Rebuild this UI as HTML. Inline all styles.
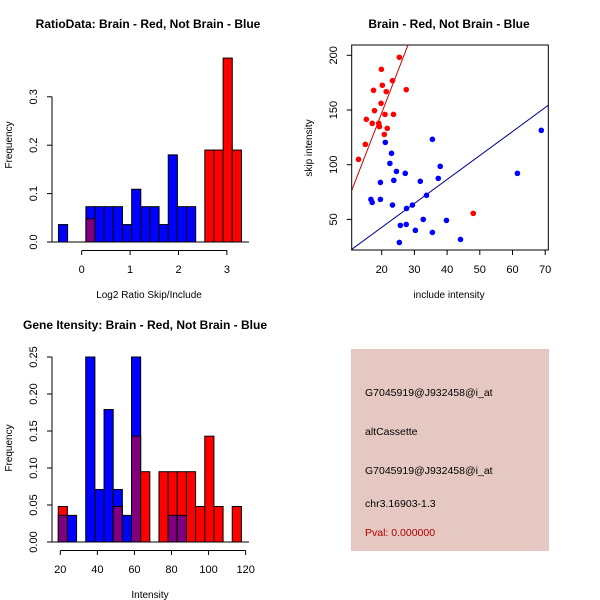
<!DOCTYPE html>
<html><head><meta charset="utf-8"><style>
body{margin:0;background:#fff;width:600px;height:600px;overflow:hidden}
svg{display:block;font-family:"Liberation Sans",Arial,sans-serif}
</style></head><body>
<svg id="chart" width="600" height="600" viewBox="0 0 600 600"></svg>
<script>
// ---- Panel 1: ratio histogram data ----
const ratioStart = -0.48;
const ratioBinWidth = 0.189;
const ratioBlue = [0.036,0,0,0.073,0.073,0.073,0.073,0.036,0.109,0.073,0.073,0.036,0.18,0.073,0.073,0,0,0,0,0];
const ratioRed  = [0,0,0,0.048,0,0,0,0,0,0,0,0,0,0,0,0,0.19,0.19,0.38,0.19];
const ratioXTicks = [0,1,2,3];
const ratioYTicks = [0,0.1,0.2,0.3];
// ---- Panel 2: scatter data ----
const redX = [25.4,19.9,23.3,27.5,17.5,20.2,21.4,19.8,17.8,21.0,23.6,15.3,17.1,19.1,19.3,21.7,20.8,15.0,12.9,48.0];
const redY = [198.2,187.2,176.8,168.6,168,172.6,166.8,156.1,149.4,146,146,141.5,137.8,137.8,134.8,133.2,127.7,118.6,104.9,55.5];
const blueX = [21.1,35.5,23.0,22.5,37.9,24.5,27.2,61.5,68.8,37.3,19.6,23.7,31.8,33.7,16.7,19.6,17.1,23.3,29.4,27.6,32.7,39.8,25.7,27.5,30.3,35.5,44.1,25.4];
const blueY = [120.4,123.2,110.4,101.2,98.5,93.9,92.1,92.1,131.4,87.5,83.8,85.7,84.8,72,68.3,68.3,65.5,63.1,63.1,60,50,49.1,44.5,45.4,40,38.1,31.7,28.9];
const redFit = [-7.3, 7.73];   // intercept, slope
const blueFit = [-1.1, 2.19];
const scatterXTicks = [20,30,40,50,60,70];
const scatterYTicks = [50,100,150,200];
// ---- Panel 3: intensity histogram data ----
const intStart = 18.9;
const intBinWidth = 4.94;
const intBlue = [0.036,0.036,0,0.25,0.071,0.179,0.071,0.036,0.25,0,0,0,0.036,0.036,0,0,0,0,0,0];
const intRed  = [0.048,0,0,0,0,0,0.048,0,0.143,0.095,0,0.095,0.095,0.095,0.095,0.048,0.143,0.048,0,0.048];
const intXTicks = [20,40,60,80,100,120];
const intYTicks = [0,0.05,0.10,0.15,0.20,0.25];

const NS = "http://www.w3.org/2000/svg";
const svg = document.getElementById('chart');
function mk(tag, attrs, parent, text){
  const e = document.createElementNS(NS, tag);
  for (const k in attrs) e.setAttribute(k, attrs[k]);
  if (text !== undefined) e.textContent = text;
  (parent || svg).appendChild(e);
  return e;
}
function txt(x,y,s,opts){
  const e = mk('text',{x:x,y:y,'font-size':(opts&&opts.size)||11,'text-anchor':(opts&&opts.anchor)||'middle',fill:(opts&&opts.fill)||'#000','font-weight':(opts&&opts.bold)?'bold':'normal'},null,s);
  if (opts&&opts.rot) e.setAttribute('transform','rotate(-90 '+x+' '+y+')');
  return e;
}
const PURPLE = '#7f007f';

function histogram(g, start, bw, blue, red, xs, ys){
  blue.forEach((b,i)=>{
    const r = red[i];
    const x0 = xs(start+i*bw), x1 = xs(start+(i+1)*bw);
    const hi = Math.max(b,r), lo = Math.min(b,r);
    if (hi<=0) return;
    const col = b>=r ? 'blue' : 'red';
    const rect = mk('rect',{x:x0,y:ys(hi),width:x1-x0,height:ys(0)-ys(hi),fill:col,stroke:'#000','stroke-width':1},g);
    
    
    if (lo>0){
      const p = mk('rect',{x:x0,y:ys(lo),width:x1-x0,height:ys(0)-ys(lo),fill:PURPLE,stroke:'#000','stroke-width':1},g);
      
      
    }
  });
}

// ===== Panel 1 =====
(function(){
  const g = mk('g',{});
  
  
  const xs = v => 81.7 + v*48.4;
  const ys = v => 242 - v*484;
  histogram(g, ratioStart, ratioBinWidth, ratioBlue, ratioRed, xs, ys);
  mk('line',{x1:52,y1:242,x2:249,y2:242,stroke:'#000'},g);
  mk('line',{x1:xs(0),y1:250.5,x2:xs(3),y2:250.5,stroke:'#000'},g);
  ratioXTicks.forEach(t=>{ mk('line',{x1:xs(t),y1:250.5,x2:xs(t),y2:255,stroke:'#000'},g); txt(xs(t),273,String(t)); });
  mk('line',{x1:52,y1:ys(0),x2:52,y2:ys(0.3),stroke:'#000'},g);
  ratioYTicks.forEach(t=>{ mk('line',{x1:52,y1:ys(t),x2:47,y2:ys(t),stroke:'#000'},g); txt(37,ys(t),t.toFixed(1),{rot:true}); });
  txt(148,28,'RatioData: Brain - Red, Not Brain - Blue',{bold:true,size:12});
  txt(149,298,'Log2 Ratio Skip/Include',{size:10});
  txt(12,145,'Frequency',{rot:true,size:10});
})();

// ===== Panel 2 =====
(function(){
  const g = mk('g',{});
  
  
  const xs = v => 381.7 + (v-20)*3.27;
  const ys = v => 55.3 - (v-200)*1.094;
  const L=351.7,R=548.3,T=45,B=250;
  mk('clipPath',{id:'sc'},g);
  mk('rect',{x:L,y:T,width:R-L,height:B-T},document.getElementById('sc'));
  const xmin=10.8,xmax=71;
  [[redFit,'#d00000','red-fit-line'],[blueFit,'#000090','blue-fit-line']].forEach(([f,c,n])=>{
    const l = mk('line',{x1:xs(xmin),y1:ys(f[0]+f[1]*xmin),x2:xs(xmax),y2:ys(f[0]+f[1]*xmax),stroke:c,'clip-path':'url(#sc)'},g);
    
    
  });
  redX.forEach((x,i)=>{ const c = mk('circle',{cx:xs(x),cy:ys(redY[i]),r:2.8,fill:'red'},g);
    
     });
  blueX.forEach((x,i)=>{ const c = mk('circle',{cx:xs(x),cy:ys(blueY[i]),r:2.8,fill:'blue'},g);
    
     });
  mk('rect',{x:L,y:T,width:R-L,height:B-T,fill:'none',stroke:'#000'},g);
  scatterXTicks.forEach(t=>{ mk('line',{x1:xs(t),y1:B,x2:xs(t),y2:B+5,stroke:'#000'},g); txt(xs(t),273,String(t)); });
  scatterYTicks.forEach(t=>{ mk('line',{x1:L,y1:ys(t),x2:L-5,y2:ys(t),stroke:'#000'},g); txt(337,ys(t),String(t),{rot:true}); });
  txt(449,28,'Brain - Red, Not Brain - Blue',{bold:true,size:12});
  txt(449,298,'include intensity',{size:10});
  txt(312,148,'skip intensity',{rot:true,size:10});
})();

// ===== Panel 3 =====
(function(){
  const g = mk('g',{});
  
  
  const xs = v => 60.3 + (v-20)*1.8535;
  const ys = v => 542 - v*740;
  histogram(g, intStart, intBinWidth, intBlue, intRed, xs, ys);
  mk('line',{x1:52,y1:542,x2:249,y2:542,stroke:'#000'},g);
  mk('line',{x1:xs(20),y1:550.5,x2:xs(120),y2:550.5,stroke:'#000'},g);
  intXTicks.forEach(t=>{ mk('line',{x1:xs(t),y1:550.5,x2:xs(t),y2:555,stroke:'#000'},g); txt(xs(t),573,String(t)); });
  mk('line',{x1:52,y1:ys(0),x2:52,y2:ys(0.25),stroke:'#000'},g);
  intYTicks.forEach(t=>{ mk('line',{x1:52,y1:ys(t),x2:47,y2:ys(t),stroke:'#000'},g); txt(37,ys(t),t.toFixed(2),{rot:true}); });
  txt(145,329,'Gene Itensity: Brain - Red, Not Brain - Blue',{bold:true,size:12});
  txt(150,598,'Intensity',{size:10});
  txt(12,448,'Frequency',{rot:true,size:10});
})();

// ===== Panel 4: info box =====
(function(){
  const g = mk('g',{});
  
  
  mk('rect',{x:351,y:349,width:198,height:202,fill:'#e6c8c2'},g);
  const lines = [['G7045919@J932458@i_at',396,'#000'],['altCassette',435,'#000'],['G7045919@J932458@i_at',474,'#000'],['chr3.16903-1.3',507,'#000'],['Pval: 0.000000',536,'#b00000']];
  lines.forEach(([s,y,c],i)=>{ const t = txt(365,y,s,{anchor:'start',fill:c,size:10.5});
    
     });
})();
</script>
</body></html>
